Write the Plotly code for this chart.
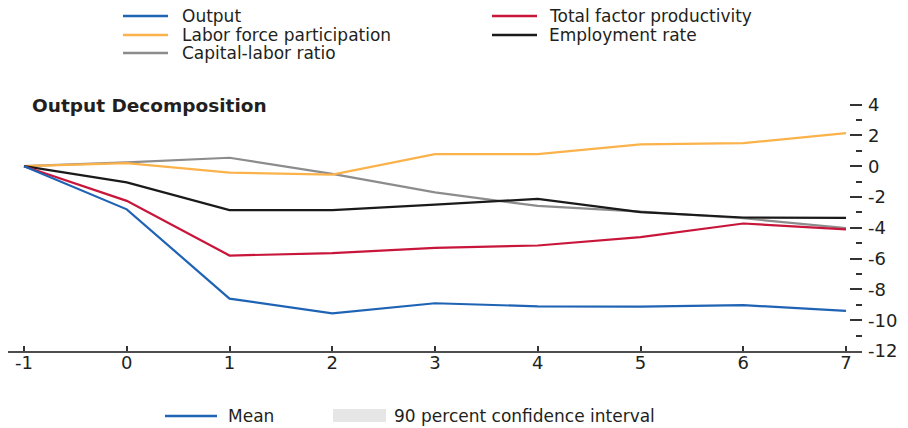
import plotly.graph_objects as go

# Horizon (years after the shock)
horizon = [-1, 0, 1, 2, 3, 4, 5, 6, 7]

# Series values (percent)
output = [0, -2.8, -8.6, -9.55, -8.9, -9.1, -9.12, -9.02, -9.4]
tfp = [0, -2.25, -5.8, -5.65, -5.3, -5.15, -4.6, -3.72, -4.1]
labor_force = [0, 0.2, -0.42, -0.55, 0.78, 0.78, 1.42, 1.5, 2.15]
employment = [0, -1.05, -2.85, -2.85, -2.5, -2.12, -2.98, -3.33, -3.35]
capital_labor = [0, 0.25, 0.55, -0.5, -1.7, -2.58, -2.95, -3.38, -4.02]

series_names = ["Output", "Total factor productivity", "Labor force participation",
                "Employment rate", "Capital-labor ratio"]
series_colors = ["#1f63b4", "#c8163b", "#fbb24a", "#1a1a1a", "#8c8c8c"]

y_ticks = [4, 2, 0, -2, -4, -6, -8, -10, -12]
x_ticks = [-1, 0, 1, 2, 3, 4, 5, 6, 7]

W, H = 908, 428
L, R, T, B = 8, 46, 100, 77
PW, PH = W - L - R, H - T - B
TEXT = "#231f20"
FONT = "DejaVu Sans"
LEG_SIZE = 17


def px(x):
    return (x - L) / PW


def py(y):
    return (H - B - y) / PH


fig = go.Figure()

# Draw the layers back to front
draw_order = [4, 2, 3, 1, 0]
all_values = [output, tfp, labor_force, employment, capital_labor]
for i in draw_order:
    fig.add_trace(go.Scatter(
        x=horizon, y=all_values[i], mode="lines", name=series_names[i],
        line=dict(color=series_colors[i], width=2.2),
        yaxis="y2", showlegend=False, hoverinfo="skip",
    ))

shapes = []
annotations = []

# Top legend (two columns)
legend_items = [
    (0, 123, 168, 181, 16),
    (2, 123, 168, 181, 35),
    (4, 123, 168, 181, 53),
    (1, 492, 537, 548, 16),
    (3, 492, 537, 548, 35),
]
for idx, x0, x1, tx, y in legend_items:
    shapes.append(dict(type="line", xref="paper", yref="paper",
                       x0=px(x0), x1=px(x1), y0=py(y), y1=py(y),
                       line=dict(color=series_colors[idx], width=2.4)))
    annotations.append(dict(text=series_names[idx], xref="paper", yref="paper",
                            x=px(tx), y=py(y), xanchor="left", yanchor="middle",
                            showarrow=False, borderpad=0,
                            font=dict(family=FONT, size=LEG_SIZE, color=TEXT)))

# Panel title
annotations.append(dict(text="<b>Output Decomposition</b>", xref="paper", yref="paper",
                        x=px(31), y=py(105), xanchor="left", yanchor="middle",
                        showarrow=False, borderpad=0,
                        font=dict(family=FONT, size=18.5, color=TEXT)))

# Bottom legend
shapes.append(dict(type="line", xref="paper", yref="paper",
                   x0=px(165), x1=px(217), y0=py(416), y1=py(416),
                   line=dict(color=series_colors[0], width=2.4)))
annotations.append(dict(text="Mean", xref="paper", yref="paper",
                        x=px(227), y=py(416), xanchor="left", yanchor="middle",
                        showarrow=False, borderpad=0,
                        font=dict(family=FONT, size=LEG_SIZE, color=TEXT)))
shapes.append(dict(type="rect", xref="paper", yref="paper",
                   x0=px(333), x1=px(386), y0=py(422), y1=py(409),
                   fillcolor="#e6e6e6", line=dict(width=0)))
annotations.append(dict(text="90 percent confidence interval", xref="paper", yref="paper",
                        x=px(393), y=py(416), xanchor="left", yanchor="middle",
                        showarrow=False, borderpad=0,
                        font=dict(family=FONT, size=LEG_SIZE, color=TEXT)))

x_left = -1 - (24 - L) / (822 / 8)
x_right = 7 + (L + PW - 846) / (822 / 8)
y_range = [-12, 4.3]

fig.update_layout(
    width=W, height=H,
    margin=dict(l=L, r=R, t=T, b=B),
    paper_bgcolor="white", plot_bgcolor="white",
    shapes=shapes, annotations=annotations,
    xaxis=dict(
        range=[x_left, x_right], tickmode="array", tickvals=x_ticks,
        ticktext=[str(v) for v in x_ticks],
        showgrid=False, zeroline=False, showline=True, linecolor="#4d4d4d", linewidth=1.5,
        ticks="inside", ticklen=5, tickwidth=1.5, tickcolor="#333333",
        ticklabelstandoff=-5,
        tickfont=dict(family=FONT, size=18, color=TEXT),
    ),
    yaxis=dict(
        range=y_range, tickmode="array", tickvals=y_ticks, showticklabels=False,
        showgrid=False, showline=False, zeroline=True, zerolinecolor="#333333",
        zerolinewidth=1.3,
        ticks="inside", ticklen=13, tickwidth=1.5, tickcolor="#333333",
        minor=dict(ticks="inside", ticklen=9, tickwidth=1.5, tickcolor="#333333",
                   dtick=1, showgrid=False),
    ),
    yaxis2=dict(
        range=y_range, overlaying="y", side="right", anchor="x",
        tickmode="array", tickvals=y_ticks, ticktext=[str(v) for v in y_ticks],
        showgrid=False, showline=False, zeroline=False,
        ticks="inside", ticklen=12, tickwidth=1.5, tickcolor="#333333",
        minor=dict(ticks="inside", ticklen=6, tickwidth=1.5, tickcolor="#333333",
                   dtick=1, showgrid=False),
        ticklabelstandoff=5,
        tickfont=dict(family=FONT, size=18, color=TEXT),
    ),
)

fig.write_html("out.html")
